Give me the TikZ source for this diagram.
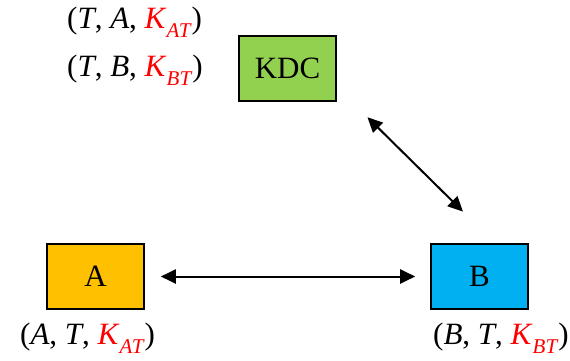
\documentclass[tikz,border=0pt]{standalone}
\usepackage{fontspec}
\setmainfont{Liberation Serif}
\usetikzlibrary{arrows.meta}
\definecolor{kdcgreen}{HTML}{92D050}
\definecolor{aorange}{HTML}{FFC000}
\definecolor{bblue}{HTML}{00B0F0}
\newcommand{\keyof}[1]{\textcolor{red}{\textit{K}\raisebox{-0.3em}{\fontsize{21}{25}\selectfont\textit{#1}}}}
\begin{document}
\begin{tikzpicture}[x=1pt,y=-1pt,
  party/.style={draw, line width=1.6pt, minimum width=97pt, minimum height=65pt, inner sep=0pt, font=\fontsize{31}{37}\selectfont},
  keylbl/.style={inner sep=0pt, font=\fontsize{31}{37}\selectfont},
  link/.style={line width=2pt, {Triangle[length=15pt,width=14pt]}-{Triangle[length=15pt,width=14pt]}}]
\useasboundingbox (0,0) rectangle (570,361);
\node[party, fill=kdcgreen] (kdc) at (287.5,68.5) {KDC};
\node[party, fill=aorange] (a) at (95.5,276.5) {A};
\node[party, fill=bblue] (b) at (479.5,276.5) {B};
\node[keylbl, anchor=west] (kta) at (67,22) {(\textit{T}, \textit{A}, \keyof{AT})};
\node[keylbl, anchor=west] (ktb) at (67,70) {(\textit{T}, \textit{B}, \keyof{BT})};
\node[keylbl, anchor=west] (kat) at (20,338) {(\textit{A}, \textit{T}, \keyof{AT})};
\node[keylbl, anchor=west] (kbt) at (433,338) {(\textit{B}, \textit{T}, \keyof{BT})};
\draw[link, shorten <=16pt, shorten >=15pt] (a) -- (b);
\draw[link, shorten <=22pt, shorten >=45pt] ([xshift=15pt]kdc.south east) -- ([xshift=15.5pt]b.north);
\end{tikzpicture}
\end{document}
